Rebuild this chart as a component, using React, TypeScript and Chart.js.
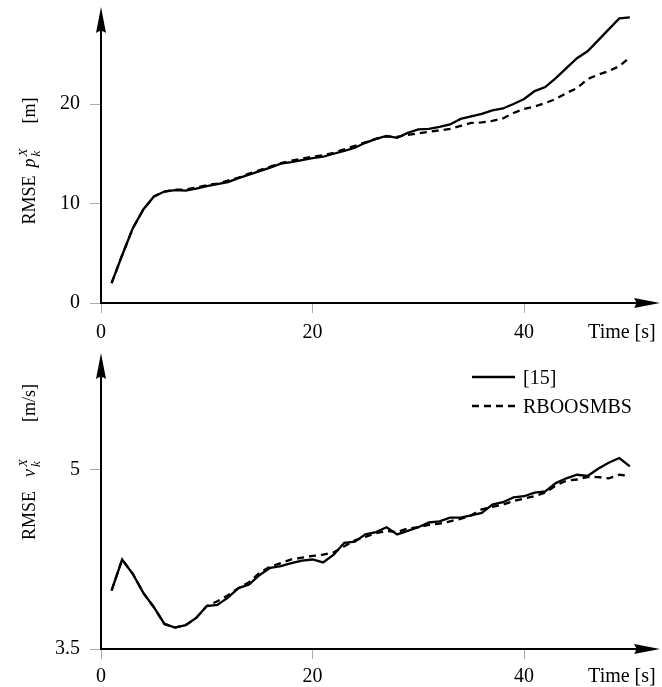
import React, { useEffect, useRef } from "react";
import { Chart, registerables } from "chart.js";
Chart.register(...registerables);

// ---------- data ----------
const timeSteps = [
  1, 2, 3, 4, 5, 6, 7, 8, 9, 10, 11, 12, 13, 14, 15, 16, 17, 18, 19, 20, 21, 22, 23, 24, 25,
  26, 27, 28, 29, 30, 31, 32, 33, 34, 35, 36, 37, 38, 39, 40, 41, 42, 43, 44, 45, 46, 47, 48, 49, 50,
];

const posRef15 = [
  2.0, 4.8, 7.5, 9.4, 10.7, 11.2, 11.35, 11.3, 11.5, 11.75,
  11.95, 12.15, 12.55, 12.9, 13.25, 13.6, 14.0, 14.15, 14.35, 14.55,
  14.7, 15.0, 15.3, 15.6, 16.1, 16.5, 16.8, 16.6, 17.1, 17.45,
  17.5, 17.7, 17.95, 18.5, 18.75, 19.0, 19.35, 19.55, 20.0, 20.5,
  21.3, 21.7, 22.6, 23.6, 24.6, 25.3, 26.4, 27.5, 28.6, 28.7,
];
const posRBOOSMBS = [
  2.0, 4.8, 7.5, 9.4, 10.7, 11.2, 11.4, 11.4, 11.6, 11.85,
  12.0, 12.3, 12.6, 13.0, 13.35, 13.7, 14.05, 14.3, 14.5, 14.7,
  14.85, 15.1, 15.45, 15.8, 16.15, 16.5, 16.75, 16.7, 16.9, 17.05,
  17.2, 17.35, 17.5, 17.8, 18.1, 18.15, 18.3, 18.55, 19.1, 19.5,
  19.75, 20.1, 20.5, 21.1, 21.6, 22.5, 22.95, 23.3, 23.8, 24.7,
];
const velRef15 = [
  3.99, 4.25, 4.13, 3.97, 3.85, 3.71, 3.68, 3.7, 3.76, 3.86,
  3.87, 3.93, 4.01, 4.04, 4.12, 4.18, 4.195, 4.22, 4.24, 4.25,
  4.225, 4.29, 4.39, 4.4, 4.46, 4.48, 4.52, 4.46, 4.49, 4.52,
  4.56, 4.57, 4.6, 4.6, 4.62, 4.64, 4.71, 4.73, 4.77, 4.78,
  4.81, 4.82, 4.89, 4.93, 4.96, 4.95, 5.01, 5.06, 5.1, 5.03,
];
const velRBOOSMBS = [
  3.99, 4.25, 4.13, 3.97, 3.85, 3.71, 3.68, 3.7, 3.76, 3.86,
  3.9, 3.95, 4.01, 4.06, 4.14, 4.19, 4.22, 4.25, 4.265, 4.28,
  4.29, 4.31, 4.36, 4.41, 4.44, 4.47, 4.49, 4.48, 4.51, 4.52,
  4.54, 4.55, 4.57, 4.59, 4.62, 4.67, 4.69, 4.71, 4.74, 4.76,
  4.78, 4.81, 4.87, 4.91, 4.92, 4.94, 4.94, 4.93, 4.96, 4.95,
];

const seriesLabels = ["[15]", "RBOOSMBS"];
const xTickValues = [0, 20, 40];
const xAxisTitle = "Time [s]";
const posTickValues = [0, 10, 20];
const velTickValues = [3.5, 5];

type LabelPart = { text?: string; italic?: boolean; sub?: string; sup?: string };
const posLabel: LabelPart[] = [{ text: "RMSE" }, { text: "p", italic: true }, { sub: "k", sup: "X" }, { text: "[m]" }];
const velLabel: LabelPart[] = [{ text: "RMSE" }, { text: "v", italic: true }, { sub: "k", sup: "X" }, { text: "[m/s]" }];

// ---------- layout constants ----------
const FONT = '"Liberation Serif", "Times New Roman", serif';
const X_MAX = 52.85;
const X_TITLE_AT = 49.25;
const Y_AXIS_W = 101;

function drawYLabel(
  ctx: CanvasRenderingContext2D,
  parts: LabelPart[],
  gaps: number[],
  bx: number,
  cy: number,
  size: number
) {
  const big = `${size}px ${FONT}`;
  const bigI = `italic ${size}px ${FONT}`;
  const small = `italic ${Math.round(size * 0.72)}px ${FONT}`;
  const widths = parts.map((p) => {
    if (p.text !== undefined) {
      ctx.font = p.italic ? bigI : big;
      return ctx.measureText(p.text).width;
    }
    ctx.font = small;
    return Math.max(ctx.measureText(p.sub || "").width, ctx.measureText(p.sup || "").width) + 2;
  });
  const adv = widths.map((w, i) => w + (i < parts.length - 1 ? gaps[i] || 0 : 0));
  const total = adv.reduce((a, b) => a + b, 0);
  ctx.save();
  ctx.translate(bx, cy);
  ctx.rotate(-Math.PI / 2);
  ctx.fillStyle = "#000";
  ctx.textAlign = "left";
  ctx.textBaseline = "alphabetic";
  let x = -total / 2;
  parts.forEach((p, i) => {
    if (p.text !== undefined) {
      ctx.font = p.italic ? bigI : big;
      ctx.fillText(p.text, x, 0);
    } else {
      ctx.font = small;
      ctx.fillText(p.sup || "", x + 1, -size * 0.45);
      ctx.fillText(p.sub || "", x + 1, size * 0.3);
    }
    x += adv[i];
  });
  ctx.restore();
}

const axesPlugin = {
  id: "axesDecor",
  afterDraw(chart: any, _args: any, opts: any) {
    const { ctx, chartArea } = chart;
    const { left, right, top, bottom } = chartArea;
    ctx.save();
    ctx.strokeStyle = "#000";
    ctx.fillStyle = "#000";
    ctx.lineWidth = 2;
    const AL = 26;
    const AW = 5;
    // x axis
    ctx.beginPath();
    ctx.moveTo(left - 1, bottom);
    ctx.lineTo(right - AL + 2, bottom);
    ctx.stroke();
    ctx.beginPath();
    ctx.moveTo(right, bottom);
    ctx.lineTo(right - AL, bottom - AW);
    ctx.quadraticCurveTo(right - AL + 4, bottom, right - AL, bottom + AW);
    ctx.closePath();
    ctx.fill();
    // y axis
    ctx.beginPath();
    ctx.moveTo(left, bottom + 1);
    ctx.lineTo(left, top + AL - 2);
    ctx.stroke();
    ctx.beginPath();
    ctx.moveTo(left, top);
    ctx.lineTo(left - AW, top + AL);
    ctx.quadraticCurveTo(left, top + AL - 4, left + AW, top + AL);
    ctx.closePath();
    ctx.fill();
    ctx.restore();
    // y label
    if (opts && opts.label) {
      drawYLabel(ctx, opts.label, opts.labelGaps, opts.labelX, opts.labelCenterY, opts.labelSize);
    }
    // legend
    if (opts && opts.legend) {
      ctx.save();
      ctx.font = `20px ${FONT}`;
      ctx.fillStyle = "#000";
      ctx.textAlign = "left";
      ctx.textBaseline = "alphabetic";
      chart.data.datasets.forEach((ds: any, i: number) => {
        const y = top + opts.legendTop + i * 29;
        ctx.strokeStyle = ds.borderColor;
        ctx.lineWidth = ds.borderWidth;
        ctx.setLineDash(ds.borderDash || []);
        ctx.beginPath();
        ctx.moveTo(right - 188, y);
        ctx.lineTo(right - 145, y);
        ctx.stroke();
        ctx.setLineDash([]);
        ctx.fillText(ds.label, right - 137, y + 7);
      });
      ctx.restore();
    }
  },
};

function zeroPad(s: any) {
  s.paddingTop = 0;
  s.paddingBottom = 0;
  s.paddingLeft = 0;
  s.paddingRight = 0;
}

function makeConfig(
  a: number[],
  b: number[],
  yMin: number,
  yMax: number,
  yTicks: number[],
  padTop: number,
  xH: number,
  xPad: number,
  decor: any
): any {
  const toPts = (arr: number[]) => arr.map((v, i) => ({ x: timeSteps[i], y: v }));
  return {
    type: "line",
    data: {
      datasets: [
        { label: seriesLabels[0], data: toPts(a), borderColor: "#000", borderWidth: 2.3, pointRadius: 0, tension: 0, fill: false },
        { label: seriesLabels[1], data: toPts(b), borderColor: "#000", borderWidth: 2.3, borderDash: [7, 5], pointRadius: 0, tension: 0, fill: false },
      ],
    },
    options: {
      animation: false,
      responsive: false,
      devicePixelRatio: 1,
      layout: { padding: { left: 0, right: 2, top: padTop, bottom: 0 } },
      plugins: { legend: { display: false }, tooltip: { enabled: false }, axesDecor: decor },
      scales: {
        x: {
          type: "linear",
          min: 0,
          max: X_MAX,
          afterBuildTicks: (s: any) => {
            s.ticks = [...xTickValues.map((v) => ({ value: v })), { value: X_TITLE_AT }];
          },
          afterFit: (s: any) => {
            s.height = xH;
            zeroPad(s);
          },
          ticks: {
            autoSkip: false,
            maxRotation: 0,
            padding: xPad,
            color: "#000",
            font: { family: FONT, size: 20 },
            callback: (v: any) => (v === X_TITLE_AT ? xAxisTitle : String(v)),
          },
          grid: {
            drawOnChartArea: false,
            drawTicks: true,
            tickLength: 10,
            tickWidth: 1,
            tickColor: (c: any) => (c.tick && c.tick.value === X_TITLE_AT ? "rgba(0,0,0,0)" : "#aaaaaa"),
          },
          border: { display: false },
        },
        y: {
          type: "linear",
          min: yMin,
          max: yMax,
          afterBuildTicks: (s: any) => {
            s.ticks = yTicks.map((v) => ({ value: v }));
          },
          afterFit: (s: any) => {
            s.width = Y_AXIS_W;
            zeroPad(s);
          },
          ticks: {
            padding: 10,
            color: "#000",
            font: { family: FONT, size: 20 },
            callback: (v: any) => String(v),
          },
          grid: { drawOnChartArea: false, drawTicks: true, tickLength: 11, tickWidth: 1, tickColor: "#aaaaaa" },
          border: { display: false },
        },
      },
    },
    plugins: [axesPlugin],
  };
}

export default function App() {
  const topRef = useRef<HTMLCanvasElement>(null);
  const botRef = useRef<HTMLCanvasElement>(null);
  useEffect(() => {
    const c1 = new Chart(
      topRef.current as HTMLCanvasElement,
      makeConfig(posRef15, posRBOOSMBS, 0, 29.75, posTickValues, 7, 40, 8, {
        label: posLabel,
        labelGaps: [8, 1, 24],
        labelX: 35,
        labelCenterY: 161,
        labelSize: 18,
      })
    );
    const c2 = new Chart(
      botRef.current as HTMLCanvasElement,
      makeConfig(velRef15, velRBOOSMBS, 3.5, 5.98, velTickValues, 10, 38, 6, {
        label: velLabel,
        labelGaps: [14, 1, 36],
        labelX: 35,
        labelCenterY: 119,
        labelSize: 18,
        legend: true,
        legendTop: 24,
      })
    );
    return () => {
      c1.destroy();
      c2.destroy();
    };
  }, []);
  return (
    <div style={{ position: "fixed", left: 0, top: 0, width: 662, height: 687, background: "#fff" }}>
      <canvas ref={topRef} width={662} height={343} style={{ display: "block", width: 662, height: 343 }} />
      <canvas ref={botRef} width={662} height={344} style={{ display: "block", width: 662, height: 344 }} />
    </div>
  );
}
